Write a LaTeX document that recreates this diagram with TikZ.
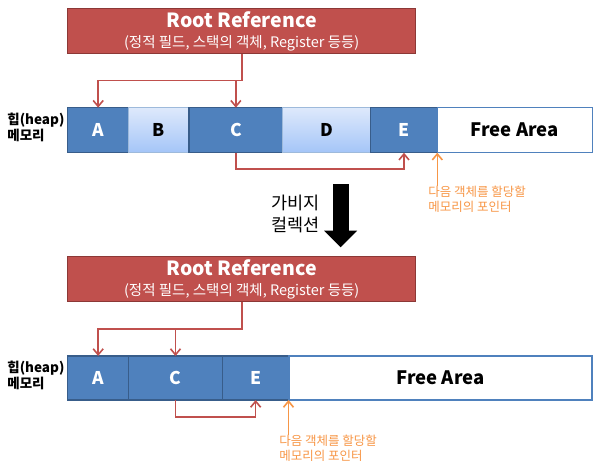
\documentclass[tikz,border=0pt]{standalone}
\usepackage{fontspec}
\setmainfont{Noto Sans CJK KR}
\usetikzlibrary{arrows.meta}

\definecolor{rootred}{RGB}{192,80,77}
\definecolor{rootedge}{RGB}{140,56,54}
\definecolor{objblue}{RGB}{79,129,189}
\definecolor{objedge}{RGB}{56,93,138}
\definecolor{deadtop}{RGB}{222,233,251}
\definecolor{deadbot}{RGB}{164,197,248}
\definecolor{ptrorange}{RGB}{247,150,70}

\tikzset{every picture/.style={line width=0.75pt}}
\tikzset{
  rootbox/.style={draw=rootedge, fill=rootred, line width=1.2pt, text=white,
    minimum width=348pt, minimum height=45pt, inner sep=0pt, align=center,
    font=\fontsize{14.5}{20}\selectfont},
  heapobj/.style={line width=1.2pt, minimum height=45pt, inner sep=0pt, outer sep=0pt,
    anchor=west, font=\fontsize{17.5}{19}\selectfont\bfseries},
  liveobj/.style={heapobj, draw=objedge, fill=objblue, text=white},
  deadobj/.style={heapobj, draw=objblue!55, top color=deadtop, bottom color=deadbot},
  freeobj/.style={heapobj, draw=objblue, fill=white, font=\fontsize{18.5}{20}\selectfont\bfseries},
  heaplabel/.style={anchor=west, align=left, inner sep=0pt, font=\fontsize{13.5}{16}\selectfont\bfseries},
  ptrlabel/.style={anchor=north west, align=left, inner sep=0pt, text=ptrorange,
    font=\fontsize{12.5}{15}\selectfont},
  refarrow/.style={draw=rootred, line width=1.6pt, -{Straight Barb[length=6pt,width=10pt]}},
  ptrarrow/.style={draw=ptrorange, line width=1.6pt, -{Straight Barb[length=6pt,width=10pt]}},
  gcarrow/.style={line width=16pt, -{Triangle[length=16.6pt,width=32pt]}}
}

\begin{document}
\begin{tikzpicture}[x=1pt,y=1pt,yscale=-1,xscale=1]
\useasboundingbox (0,0) rectangle (600,467);

% Root Reference (before)
\node[rootbox] (root1) at (241.7,31) {{\fontsize{19.5}{20}\selectfont\bfseries Root Reference}\\(정적 필드, 스택의 객체, Register 등등)};

% Heap (before)
\node[heaplabel] (heap1) at (7,127) {힙(heap)\\메모리};
\node[liveobj, minimum width=61pt] (a1) at (67.7,130.2) {A};
\node[deadobj, minimum width=60.3pt] (b1) at (a1.east) {B};
\node[liveobj, minimum width=93.7pt] (c1) at (b1.east) {C};
\node[deadobj, minimum width=88pt] (d1) at (c1.east) {D};
\node[liveobj, minimum width=66.6pt] (e1) at (d1.east) {E};
\node[freeobj, minimum width=155pt] (free1) at (e1.east) {Free Area};

%Straight Lines
\coordinate (fork1) at (241.7,80.3);
\draw[refarrow] (root1.south) -- (fork1) -| (a1.north);
\draw[refarrow] (fork1 -| c1.north) -- (c1.north);
\draw[refarrow] (c1.south) -- ++(0,16.3) -| (e1.south);

% pointer (before)
\coordinate (ptr1) at (437.3,186);
\draw[ptrarrow] (ptr1) -- (ptr1 |- free1.south);
\node[ptrlabel] (ptrtext1) at (428,186) {다음 객체를 할당할\\메모리의 포인터};

% Garbage collection
\coordinate (gctop) at (340.7,184);
\coordinate (gcbot) at (340.7,247.3);
\draw[gcarrow] (gctop) -- (gcbot);
\node[anchor=east, align=right, inner sep=0pt, font=\fontsize{17.5}{22}\selectfont] (gctext) at (320,214) {가비지\\컬렉션};

% Root Reference (after)
\node[rootbox] (root2) at (241.7,279) {{\fontsize{19.5}{20}\selectfont\bfseries Root Reference}\\(정적 필드, 스택의 객체, Register 등등)};

% Heap (after)
\node[heaplabel] (heap2) at (7,375.5) {힙(heap)\\메모리};
\node[liveobj, minimum width=61pt, minimum height=44pt] (a2) at (67.7,378) {A};
\node[liveobj, minimum width=93.6pt, minimum height=44pt] (c2) at (a2.east) {C};
\node[liveobj, minimum width=66.7pt, minimum height=44pt] (e2) at (c2.east) {E};
\node[freeobj, minimum width=303pt, minimum height=44pt] (free2) at (e2.east) {Free Area};

%Straight Lines
\coordinate (fork2) at (241.7,329);
\draw[refarrow] (root2.south) -- (fork2) -| (a2.north);
\draw[refarrow] (fork2 -| c2.north) -- (c2.north);
\draw[refarrow] (c2.south) -- ++(0,16.7) -| (e2.south);

% pointer (after)
\coordinate (ptr2) at (288.5,435);
\draw[ptrarrow] (ptr2) -- (ptr2 |- free2.south);
\node[ptrlabel] (ptrtext2) at (279,435) {다음 객체를 할당할\\메모리의 포인터};

\end{tikzpicture}
\end{document}
